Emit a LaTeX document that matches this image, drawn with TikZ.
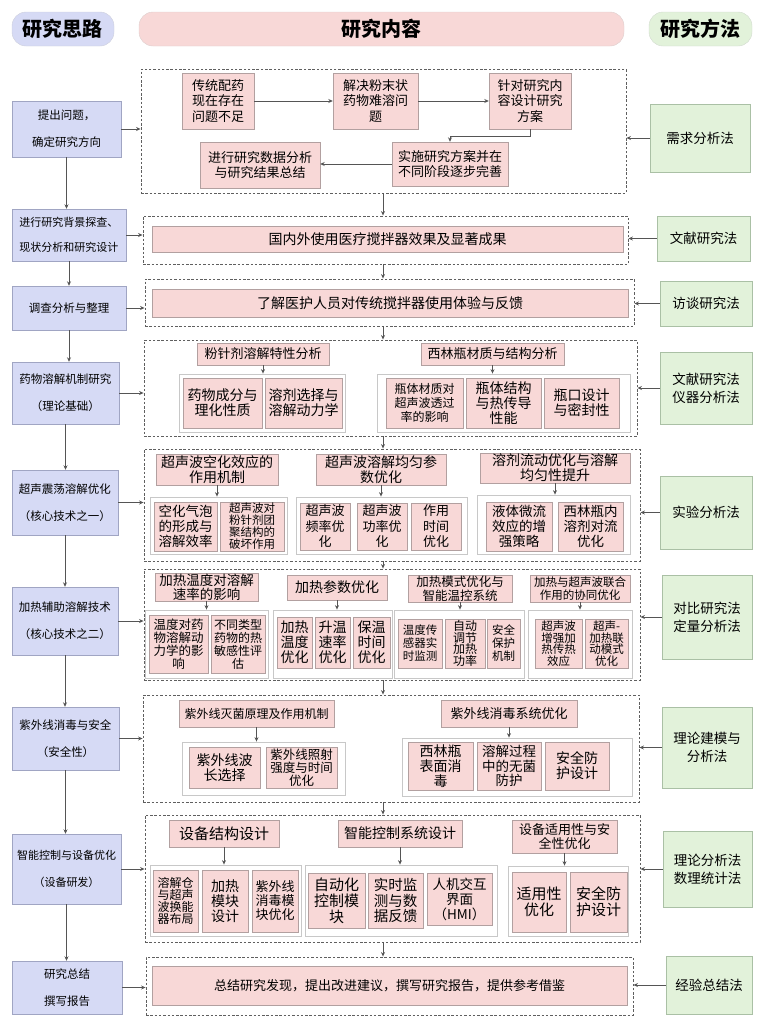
\documentclass[tikz,border=0pt]{standalone}
\usepackage{fontspec}
\setmainfont{Noto Sans CJK SC}
\setsansfont{Noto Sans CJK SC}
\usetikzlibrary{arrows.meta}
\definecolor{lavfill}{RGB}{214,218,245}
\definecolor{lavline}{RGB}{160,165,195}
\definecolor{pkfill}{RGB}{248,216,215}
\definecolor{pkline}{RGB}{178,160,160}
\definecolor{grnfill}{RGB}{226,242,218}
\definecolor{grnline}{RGB}{170,192,165}
\definecolor{boxline}{RGB}{200,200,200}
\definecolor{dashc}{RGB}{95,95,95}
\definecolor{arrc}{RGB}{85,85,85}
\begin{document}
\begin{tikzpicture}[x=1pt,y=-1pt,
    >={Stealth[length=4.5pt,width=4pt]},
    every node/.style={inner sep=1pt,align=center},
    sz/.style 2 args={minimum width=#1pt,minimum height=#2pt},
    head/.style={draw=#1!80!black!60,fill=#1,rounded corners=14pt,font=\fontsize{20}{24}\selectfont\bfseries},
    think/.style={draw=lavline,fill=lavfill,font=\fontsize{11.5}{27}\selectfont},
    meth/.style={draw=grnline,fill=grnfill,font=\fontsize{13.5}{18}\selectfont},
    grp/.style={draw=dashc,dash pattern=on 2.5pt off 1.8pt,line width=0.9pt},
    cbox/.style={draw=boxline,fill=white,line width=0.8pt},
    pbox/.style={draw=pkline,fill=pkfill,font=\fontsize{13}{15.5}\selectfont},
    f12/.style={font=\fontsize{12}{12.5}\selectfont},
    f14/.style={font=\fontsize{14}{15}\selectfont},
    f15/.style={font=\fontsize{15}{16}\selectfont},
    link/.style={->,draw=arrc,line width=1pt}]
    \useasboundingbox (0,0) rectangle (763,1023);
    % headers
    \node[head=lavfill,sz={102}{34}] (hl) at (63,29) {研究思路};
    \node[head=pkfill,sz={485}{34}] (hm) at (381.5,29) {研究内容};
    \node[head=grnfill,sz={103}{34}] (hr) at (700.5,29) {研究方法};
    % left column
    \node[think,sz={109}{56}] (t1) at (66.5,129) {提出问题，\\确定研究方向};
    \node[think,sz={114}{52},font=\fontsize{11}{25}\selectfont] (t2) at (69,235) {进行研究背景探查、\\现状分析和研究设计};
    \node[think,sz={114}{44}] (t3) at (69,308) {调查分析与整理};
    \node[think,sz={107}{62}] (t4) at (65.5,393) {药物溶解机制研究\\（理论基础）};
    \node[think,sz={106}{65}] (t5) at (65,502.5) {超声震荡溶解优化\\（核心技术之一）};
    \node[think,sz={106}{68}] (t6) at (65,621) {加热辅助溶解技术\\（核心技术之二）};
    \node[think,sz={107}{63}] (t7) at (65.5,738.5) {紫外线消毒与安全\\（安全性）};
    \node[think,sz={109}{70},font=\fontsize{11}{27}\selectfont] (t8) at (66.5,869) {智能控制与设备优化\\（设备研发）};
    \node[think,sz={110}{53}] (t9) at (67,987.5) {研究总结\\撰写报告};
    % right column
    \node[meth,sz={100}{68}] (m1) at (700,138) {需求分析法};
    \node[meth,sz={93}{45}] (m2) at (703.5,238.5) {文献研究法};
    \node[meth,sz={92}{45}] (m3) at (706,303.5) {访谈研究法};
    \node[meth,sz={92}{72}] (m4) at (706,388) {文献研究法\\仪器分析法};
    \node[meth,sz={92}{73}] (m5) at (706,512.5) {实验分析法};
    \node[meth,sz={90}{84}] (m6) at (707,617) {对比研究法\\定量分析法};
    \node[meth,sz={90}{81}] (m7) at (707,747.5) {理论建模与\\分析法};
    \node[meth,sz={89}{76}] (m8) at (707.5,869) {理论分析法\\数理统计法};
    \node[meth,sz={86}{58}] (m9) at (709,985) {经验总结法};
    % dashed groups
    \node[grp,sz={485}{124}] (r1) at (383.5,131) {};
    \node[grp,sz={485}{48}] (r2) at (385.5,240) {};
    \node[grp,sz={489}{47}] (r3) at (389.5,302.5) {};
    \node[grp,sz={493}{96}] (r4) at (390.5,388) {};
    \node[grp,sz={496}{112}] (r5) at (392,505) {};
    \node[grp,sz={496}{111}] (r6) at (392,624.5) {};
    \node[grp,sz={496}{107}] (r7) at (391,748.5) {};
    \node[grp,sz={495}{127}] (r8) at (392.5,878.5) {};
    \node[grp,sz={487}{58}] (r9) at (389.5,986) {};
    % row 1
    \node[pbox,sz={72}{56}] (a1) at (218,101) {传统配药\\现在存在\\问题不足};
    \node[pbox,sz={85}{56}] (a2) at (375.5,101) {解决粉末状\\药物难溶问\\题};
    \node[pbox,sz={82}{56}] (a3) at (530,101) {针对研究内\\容设计研究\\方案};
    \node[pbox,sz={116}{44}] (a4) at (450,164) {实施研究方案并在\\不同阶段逐步完善};
    \node[pbox,sz={120}{46}] (a5) at (260,165) {进行研究数据分析\\与研究结果总结};
    \draw[link] (a1) -- (a2);
    \draw[link] (a2) -- (a3);
    \draw[link] (a3.south) -- ++(0,7) -| (a4.north);
    \draw[link] (a4.west) -- (a4.west -| a5.east);
    % rows 2, 3
    \node[pbox,sz={471}{26},f14] (p2) at (387.5,239) {国内外使用医疗搅拌器效果及显著成果};
    \node[pbox,sz={476}{28},f14] (p3) at (390,303) {了解医护人员对传统搅拌器使用体验与反馈};
    % row 4
    \node[pbox,sz={132}{22}] (b1) at (263,354) {粉针剂溶解特性分析};
    \node[pbox,sz={143}{22}] (b2) at (492.5,354) {西林瓶材质与结构分析};
    \node[cbox,sz={166}{58}] (c1) at (262,403) {};
    \node[cbox,sz={253}{58}] (c2) at (503.5,403) {};
    \node[pbox,sz={79}{50},f14] (d1) at (222.5,403) {药物成分与\\理化性质};
    \node[pbox,sz={77}{50},f14] (d2) at (303.5,403) {溶剂选择与\\溶解动力学};
    \node[pbox,sz={77}{50},font=\fontsize{12}{14}\selectfont] (d3) at (424.5,403) {瓶体材质对\\超声波透过\\率的影响};
    \node[pbox,sz={75}{50},f14] (d4) at (503.5,403) {瓶体结构\\与热传导\\性能};
    \node[pbox,sz={75}{50},f14] (d5) at (581.5,403) {瓶口设计\\与密封性};
    \draw[link] (b1.south) -- (b1.south |- c1.north);
    \draw[link] (b2.south) -- (b2.south |- c2.north);
    % row 5
    \node[pbox,sz={122}{31},f14] (b3) at (217,469.5) {超声波空化效应的\\作用机制};
    \node[pbox,sz={130}{31},f14] (b4) at (381,469.5) {超声波溶解均匀参\\数优化};
    \node[pbox,sz={150}{28},f14] (b5) at (555,468) {溶剂流动优化与溶解\\均匀性提升};
    \node[cbox,sz={137}{57}] (c3) at (218.5,525.5) {};
    \node[cbox,sz={171}{57}] (c4) at (381.5,525.5) {};
    \node[cbox,sz={153}{59}] (c5) at (553.5,524.5) {};
    \node[pbox,sz={63}{49},font=\fontsize{13.5}{15}\selectfont] (d6) at (185.5,526.5) {空化气泡\\的形成与\\溶解效率};
    \node[pbox,sz={64}{49},font=\fontsize{11.5}{12}\selectfont] (d7) at (252,526.5) {超声波对\\粉针剂团\\聚结构的\\破坏作用};
    \node[pbox,sz={50}{47}] (d8) at (325,526.5) {超声波\\频率优\\化};
    \node[pbox,sz={50}{47}] (d9) at (382,526.5) {超声波\\功率优\\化};
    \node[pbox,sz={50}{47}] (d10) at (436,526.5) {作用\\时间\\优化};
    \node[pbox,sz={66}{49},font=\fontsize{13.5}{15}\selectfont] (d11) at (519,526.5) {液体微流\\效应的增\\强策略};
    \node[pbox,sz={65}{49},font=\fontsize{13.5}{15}\selectfont] (d12) at (590.5,526.5) {西林瓶内\\溶剂对流\\优化};
    \draw[link] (b3.south) -- (b3.south |- c3.north);
    \draw[link] (b4.south) -- (b4.south |- c4.north);
    \draw[link] (b5.south) -- (b5.south |- c5.north);
    % row 6
    \node[pbox,sz={103}{28},font=\fontsize{13.5}{14}\selectfont] (b6) at (206.5,587) {加热温度对溶解\\速率的影响};
    \node[pbox,sz={100}{25},f14] (b7) at (337,587.5) {加热参数优化};
    \node[pbox,sz={104}{27},font=\fontsize{12.5}{13.5}\selectfont] (b8) at (460,588.5) {加热模式优化与\\智能温控系统};
    \node[pbox,sz={100}{27},font=\fontsize{11.5}{13}\selectfont] (b9) at (580,588.5) {加热与超声波联合\\作用的协同优化};
    \node[cbox,sz={123}{68}] (c6) at (206.5,644) {};
    \node[cbox,sz={119}{68}] (c7) at (332.5,644) {};
    \node[cbox,sz={130}{68}] (c8) at (459,644) {};
    \node[cbox,sz={104}{68}] (c9) at (580,644) {};
    \node[pbox,sz={59}{58},font=\fontsize{12.5}{13}\selectfont] (e1) at (178.5,644) {温度对药\\物溶解动\\力学的影\\响};
    \node[pbox,sz={54}{58},font=\fontsize{12}{13}\selectfont] (e2) at (238,644) {不同类型\\药物的热\\敏感性评\\估};
    \node[pbox,sz={35}{51},f14] (e3) at (294.5,642.5) {加热\\温度\\优化};
    \node[pbox,sz={35}{51},f14] (e4) at (332.5,642.5) {升温\\速率\\优化};
    \node[pbox,sz={37}{51},f14] (e5) at (371.5,642.5) {保温\\时间\\优化};
    \node[pbox,sz={44}{49},font=\fontsize{11.5}{13}\selectfont] (e6) at (420,643.5) {温度传\\感器实\\时监测};
    \node[pbox,sz={40}{49},font=\fontsize{12}{11.5}\selectfont] (e7) at (465,643.5) {自动\\调节\\加热\\功率};
    \node[pbox,sz={33}{49},font=\fontsize{11.5}{13}\selectfont] (e8) at (503.5,643.5) {安全\\保护\\机制};
    \node[pbox,sz={47}{49},font=\fontsize{11.5}{11.5}\selectfont] (e9) at (558.5,643.5) {超声波\\增强加\\热传热\\效应};
    \node[pbox,sz={43}{49},font=\fontsize{11.5}{11.5}\selectfont] (e10) at (606.5,643.5) {超声-\\加热联\\动模式\\优化};
    \draw[link] (b6.south) -- (b6.south |- c6.north);
    \draw[link] (b7.south) -- (b7.south |- c7.north);
    \draw[link] (b8.south) -- (b8.south |- c8.north);
    \draw[link] (b9.south) -- (b9.south |- c9.north);
    % row 7
    \node[pbox,sz={155}{27},font=\fontsize{12}{14}\selectfont] (b10) at (256.5,713.5) {紫外线灭菌原理及作用机制};
    \node[pbox,sz={136}{27}] (b11) at (509,713.5) {紫外线消毒系统优化};
    \node[cbox,sz={163}{53}] (c10) at (263.5,768.5) {};
    \node[cbox,sz={230}{58}] (c11) at (517,767) {};
    \node[pbox,sz={71}{41},f14] (f1) at (224.5,767.5) {紫外线波\\长选择};
    \node[pbox,sz={71}{41},font=\fontsize{12.5}{13}\selectfont] (f2) at (301.5,767.5) {紫外线照射\\强度与时间\\优化};
    \node[pbox,sz={65}{48},f14] (f3) at (440.5,766) {西林瓶\\表面消\\毒};
    \node[pbox,sz={64}{48},font=\fontsize{13.5}{14.5}\selectfont] (f4) at (509,766) {溶解过程\\中的无菌\\防护};
    \node[pbox,sz={64}{48},f14] (f5) at (577,766) {安全防\\护设计};
    \draw[link] (b10.south) -- (b10.south |- c10.north);
    \draw[link] (b11.south) -- (b11.south |- c11.north);
    % row 8
    \node[pbox,sz={110}{27},f15] (b12) at (224,833.5) {设备结构设计};
    \node[pbox,sz={124}{27},f14] (b13) at (400,833.5) {智能控制系统设计};
    \node[pbox,sz={105}{33},font=\fontsize{13}{14.5}\selectfont] (b14) at (564.5,836.5) {设备适用性与安\\全性优化};
    \node[cbox,sz={151}{71}] (c12) at (225.5,900.5) {};
    \node[cbox,sz={192}{71}] (c13) at (401,900.5) {};
    \node[cbox,sz={120}{70}] (c14) at (568,901) {};
    \node[pbox,sz={45}{62},font=\fontsize{12}{12}\selectfont] (g1) at (175.5,901) {溶解仓\\与超声\\波换能\\器布局};
    \node[pbox,sz={46}{62},f14] (g2) at (225,901) {加热\\模块\\设计};
    \node[pbox,sz={46}{62},font=\fontsize{13}{14}\selectfont] (g3) at (275,901) {紫外线\\消毒模\\块优化};
    \node[pbox,sz={57}{55},f15] (g4) at (336.5,900.5) {自动化\\控制模\\块};
    \node[pbox,sz={55}{55},font=\fontsize{14.5}{15.5}\selectfont] (g5) at (395.5,900.5) {实时监\\测与数\\据反馈};
    \node[pbox,sz={65}{52},font=\fontsize{13.5}{15}\selectfont] (g6) at (459.5,899) {人机交互\\界面\\（HMI）};
    \node[pbox,sz={54}{60},f15] (g7) at (539,902) {适用性\\优化};
    \node[pbox,sz={57}{60},f15] (g8) at (598.5,902) {安全防\\护设计};
    \draw[link] (b12.south) -- (b12.south |- c12.north);
    \draw[link] (b13.south) -- (b13.south |- c13.north);
    \draw[link] (b14.south) -- (b14.south |- c14.north);
    % row 9
    \node[pbox,sz={475}{39}] (p9) at (389.5,985.5) {总结研究发现，提出改进建议，撰写研究报告，提供参考借鉴};
    % left column flow
    \draw[link] (t1.south) -- (t1.south |- t2.north);
    \draw[link] (t2.south) -- (t2.south |- t3.north);
    \draw[link] (t3.south) -- (t3.south |- t4.north);
    \draw[link] (t4.south) -- (t4.south |- t5.north);
    \draw[link] (t5.south) -- (t5.south |- t6.north);
    \draw[link] (t6.south) -- (t6.south |- t7.north);
    \draw[link] (t7.south) -- (t7.south |- t8.north);
    \draw[link] (t8.south) -- (t8.south |- t9.north);
    % middle flow
    \coordinate (ax) at (383,0);
    \draw[link] (r1.south -| ax) -- (r2.north -| ax);
    \draw[link] (r2.south -| ax) -- (r3.north -| ax);
    \draw[link] (r3.south -| ax) -- (r4.north -| ax);
    \draw[link] (r4.south -| ax) -- (r5.north -| ax);
    \draw[link] (r5.south -| ax) -- (r6.north -| ax);
    \draw[link] (r6.south -| ax) -- (r7.north -| ax);
    \draw[link] (r7.south -| ax) -- (r8.north -| ax);
    \draw[link] (r8.south -| ax) -- (r9.north -| ax);
    % into the groups
    \draw[link] (t1.east) -- (t1.east -| r1.west);
    \draw[link] (t2.east) -- (t2.east -| r2.west);
    \draw[link] (t3.east) -- (t3.east -| r3.west);
    \draw[link] (t4.east) -- (t4.east -| r4.west);
    \draw[link] (t5.east) -- (t5.east -| r5.west);
    \draw[link] (t6.east) -- (t6.east -| r6.west);
    \draw[link] (t7.east) -- (t7.east -| r7.west);
    \draw[link] (t8.east) -- (t8.east -| r8.west);
    \draw[link] (t9.east) -- (t9.east -| r9.west);
    \draw[link] (m1.west) -- (m1.west -| r1.east);
    \draw[link] (m2.west) -- (m2.west -| r2.east);
    \draw[link] (m3.west) -- (m3.west -| r3.east);
    \draw[link] (m4.west) -- (m4.west -| r4.east);
    \draw[link] (m5.west) -- (m5.west -| r5.east);
    \draw[link] (m6.west) -- (m6.west -| r6.east);
    \draw[link] (m7.west) -- (m7.west -| r7.east);
    \draw[link] (m8.west) -- (m8.west -| r8.east);
    \draw[link] (m9.west) -- (m9.west -| r9.east);
\end{tikzpicture}
\end{document}
